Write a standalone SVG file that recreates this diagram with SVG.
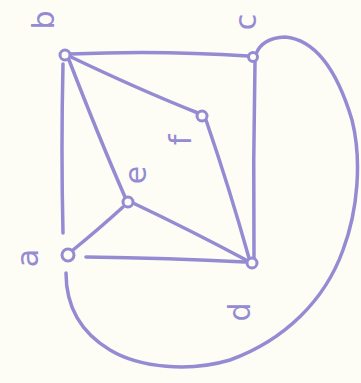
<svg xmlns="http://www.w3.org/2000/svg" width="361" height="383" viewBox="0 0 361 383">
<style>
.e{fill:none;stroke:#948bd3;stroke-width:3.5;stroke-linecap:round;stroke-linejoin:round}
.v{fill:#fdfdf6;stroke:#948bd3;stroke-width:3}
.l{font-family:"DejaVu Sans","Liberation Sans",sans-serif;font-size:30px;fill:#948bd3;text-anchor:middle;dominant-baseline:central}
</style>
<rect width="361" height="383" fill="#fdfdf6"/>
<g id="connectors">
<path class="e" d="M70 54 Q160 50 248 56"/>
<path class="e" d="M63 64 Q61 150 63 233"/>
<path class="e" d="M69 60 Q100 140 125 197"/>
<path class="e" d="M71 57 Q140 90 198 113"/>
<path class="e" d="M206 120 Q230 190 249 258"/>
<path class="e" d="M255 62 Q253 160 254 258"/>
<path class="e" d="M133 203 Q190 230 248 261"/>
<path class="e" d="M73 250 Q100 228 123 207"/>
<path class="e" d="M86 257 Q170 258 245 262"/>
<path class="e" d="M256 54 Q262 38 285 37 C320 40 340 80 352 120 C362 160 358 210 343 250 C325 300 285 340 230 360 C190 372 140 368 110 350 C80 332 66 305 66 273"/>
</g>
<g id="node-b"><circle class="v" cx="65" cy="55" r="5"/><text class="l" transform="rotate(-90 43 20)" x="43" y="20">b</text></g>
<g id="node-c"><circle class="v" cx="253" cy="57" r="4.5"/><text class="l" transform="rotate(-90 245 22)" x="245" y="22">c</text></g>
<g id="node-a"><circle class="v" cx="68" cy="255" r="6"/><text class="l" transform="rotate(-90 27 258)" x="27" y="258">a</text></g>
<g id="node-e"><circle class="v" cx="128" cy="202" r="5"/><text class="l" transform="rotate(-90 135 175)" x="135" y="175">e</text></g>
<g id="node-f"><circle class="v" cx="202" cy="116" r="5"/><text class="l" transform="rotate(-90 180 140)" x="180" y="140">f</text></g>
<g id="node-d"><circle class="v" cx="252" cy="263" r="5"/><text class="l" transform="rotate(-90 239 312)" x="239" y="312">d</text></g>
</svg>
